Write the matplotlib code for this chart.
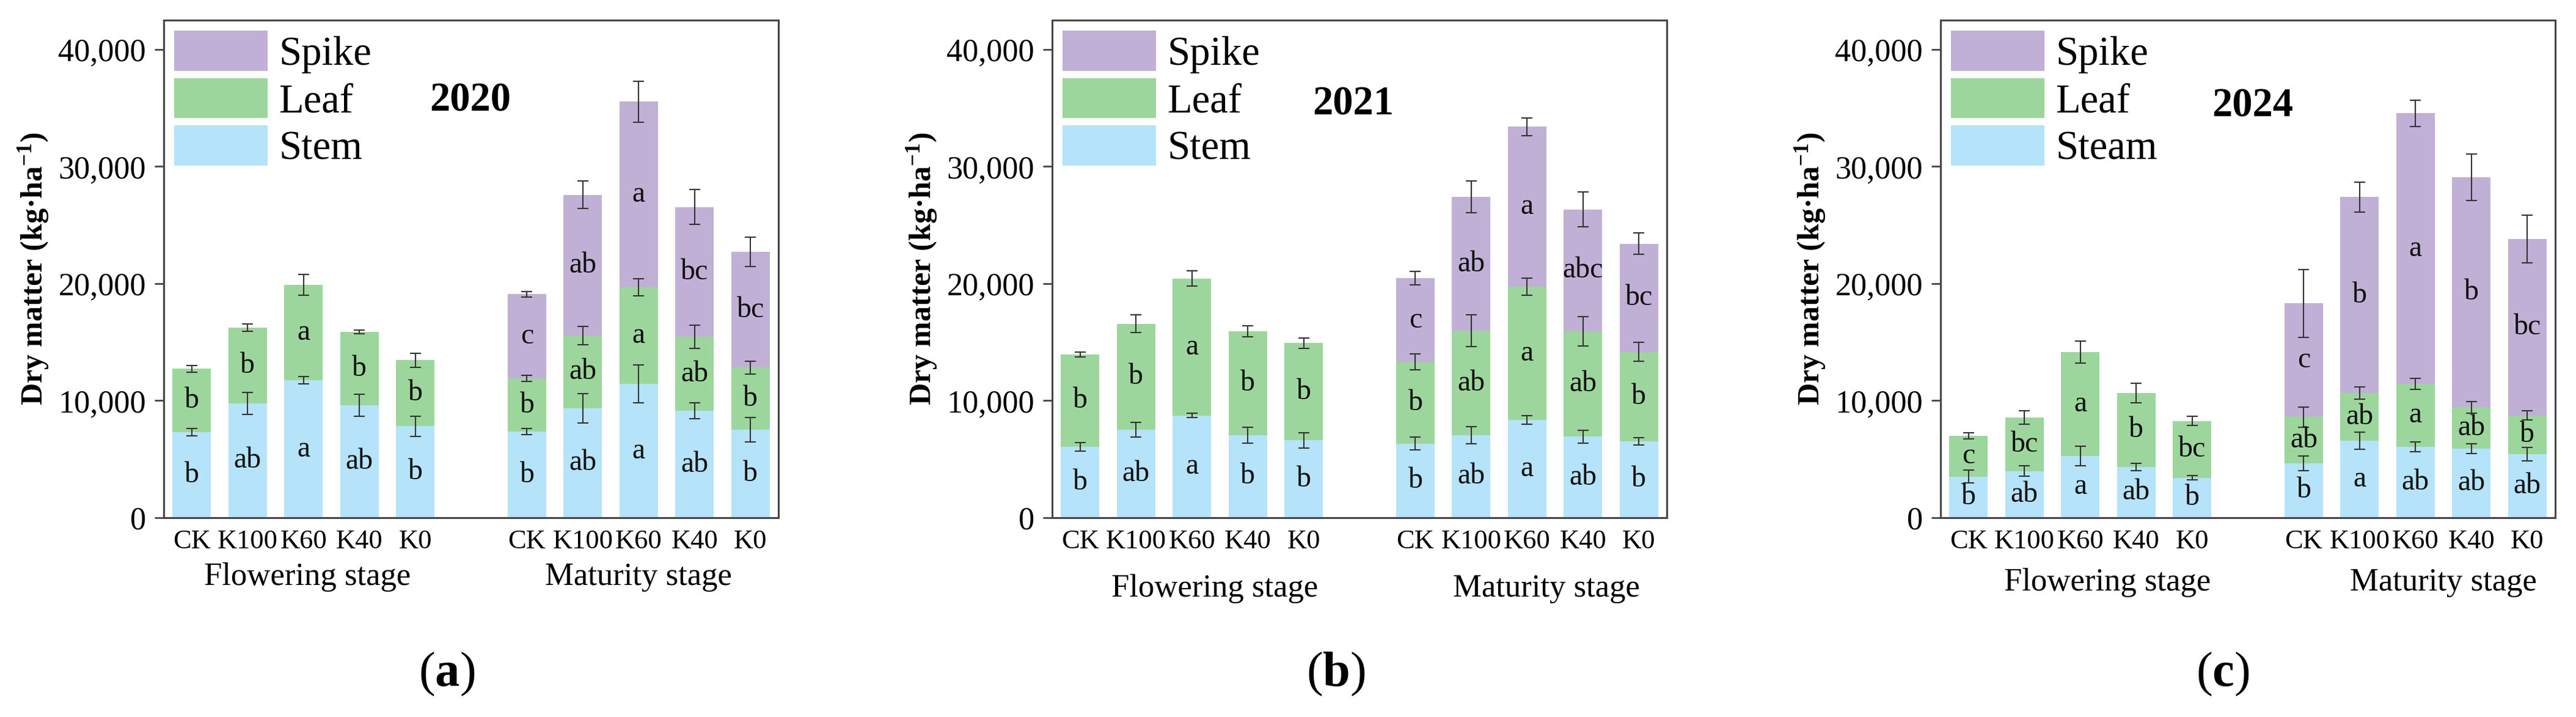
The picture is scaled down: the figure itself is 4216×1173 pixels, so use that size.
import matplotlib
matplotlib.use('Agg')
import matplotlib.pyplot as plt
import matplotlib.transforms as mtransforms
import numpy as np

plt.rcParams['font.family'] = ['Liberation Serif', 'DejaVu Serif']
plt.rcParams['mathtext.fontset'] = 'custom'
plt.rcParams['mathtext.rm'] = 'Liberation Serif'
plt.rcParams['mathtext.bf'] = 'Liberation Serif:bold'
plt.rcParams['mathtext.it'] = 'Liberation Serif:italic'

# ---------------- data ----------------
treatments = ['CK', 'K100', 'K60', 'K40', 'K0']
stages = ['Flowering stage', 'Maturity stage']
years = ['2020', '2021', '2024']
panel_tags = ['a', 'b', 'c']
legend_labels = [['Spike', 'Leaf', 'Stem'],
                 ['Spike', 'Leaf', 'Stem'],
                 ['Spike', 'Leaf', 'Steam']]
ytick_values = [0, 10000, 20000, 30000, 40000]
ytick_labels = ['0', '10,000', '20,000', '30,000', '40,000']

# order: flowering CK..K0, maturity CK..K0
stem_2020 = [7320, 9780, 11740, 9590, 7830, 7360, 9350, 11430, 9120, 7510]
leaf_2020 = [5400, 6460, 8140, 6300, 5630, 4540, 6230, 8260, 6340, 5330]
spike_2020 = [7200, 12010, 15850, 11080, 9860]            # maturity only
stem_err_2020 = [300, 940, 330, 940, 860, 250, 1270, 1620, 670, 1040]
leaf_err_2020 = [270, 310, 900, 160, 590, 250, 780, 720, 1000, 550]
spike_err_2020 = [240, 1170, 1760, 1490, 1250]
stem_let_2020 = ['b', 'ab', 'a', 'ab', 'b', 'b', 'ab', 'a', 'ab', 'b']
leaf_let_2020 = ['b', 'b', 'a', 'b', 'b', 'b', 'ab', 'a', 'ab', 'b']
spike_let_2020 = ['c', 'ab', 'a', 'bc', 'bc']

stem_2021 = [6070, 7510, 8730, 7050, 6610, 6340, 7050, 8340, 6930, 6540]
leaf_2021 = [7860, 9050, 11700, 8880, 8300, 6970, 8920, 11390, 9000, 7630]
spike_2021 = [7160, 11430, 13660, 10410, 9240]
stem_err_2021 = [370, 610, 180, 700, 670, 530, 740, 370, 550, 310]
leaf_err_2021 = [200, 760, 650, 450, 430, 670, 1350, 720, 1270, 820]
spike_err_2021 = [590, 1370, 780, 1470, 920]
stem_let_2021 = ['b', 'ab', 'a', 'b', 'b', 'b', 'ab', 'a', 'ab', 'b']
leaf_let_2021 = ['b', 'b', 'a', 'b', 'b', 'b', 'ab', 'a', 'ab', 'b']
spike_let_2021 = ['c', 'ab', 'a', 'abc', 'bc']

stem_2024 = [3520, 3990, 5280, 4340, 3410, 4660, 6580, 6070, 5910, 5440]
leaf_2024 = [3490, 4580, 8850, 6310, 4850, 3950, 4070, 5360, 3520, 3290]
spike_2024 = [9710, 16750, 23130, 19650, 15070]
stem_err_2024 = [550, 450, 840, 330, 180, 630, 740, 430, 430, 590]
leaf_err_2024 = [270, 590, 940, 820, 390, 860, 530, 490, 490, 390]
spike_err_2024 = [2900, 1270, 1120, 1960, 2050]
stem_let_2024 = ['b', 'ab', 'a', 'ab', 'b', 'b', 'a', 'ab', 'ab', 'ab']
leaf_let_2024 = ['c', 'bc', 'a', 'b', 'bc', 'ab', 'ab', 'a', 'ab', 'b']
spike_let_2024 = ['c', 'b', 'a', 'b', 'bc']

panels = [
    (stem_2020, leaf_2020, spike_2020, stem_err_2020, leaf_err_2020, spike_err_2020,
     stem_let_2020, leaf_let_2020, spike_let_2020),
    (stem_2021, leaf_2021, spike_2021, stem_err_2021, leaf_err_2021, spike_err_2021,
     stem_let_2021, leaf_let_2021, spike_let_2021),
    (stem_2024, leaf_2024, spike_2024, stem_err_2024, leaf_err_2024, spike_err_2024,
     stem_let_2024, leaf_let_2024, spike_let_2024),
]

# ---------------- style / layout ----------------
c_stem = '#B5E3FA'
c_leaf = '#9DD69C'
c_spike = '#C1B0D6'
c_err = '#333333'
c_spine = '#454545'

W, H = 4216, 1173
axes_left_px = [268, 1722, 3176]
axes_w_px = 1006
axes_top_px, axes_bot_px = 33, 847
year_pos = [(0.499, 0.838), (0.490, 0.830), (0.508, 0.827)]
stage_x = [(2.07, 8.0), (2.41, 8.34), (2.49, 8.5)]
stage_y = [-0.135, -0.158, -0.146]
tag_x_px = [731, 2186, 3638]
tag_base_px = 1122

fig = plt.figure(figsize=(W / 100, H / 100), dpi=100)

ntr = len(treatments)
xpos = np.concatenate([np.arange(ntr), np.arange(ntr) + ntr + 1]).astype(float)
bw = 0.69

for i, (stem, leaf, spike, se, le, pe, sl, ll, pl) in enumerate(panels):
    ax = fig.add_axes([axes_left_px[i] / W, 1 - axes_bot_px / H,
                       axes_w_px / W, (axes_bot_px - axes_top_px) / H])
    stem = np.array(stem, float)
    leaf = np.array(leaf, float)
    spike = np.array(spike, float)
    leaf_top = stem + leaf
    xm = xpos[ntr:]

    b_stem = ax.bar(xpos, stem, bw, color=c_stem, zorder=2)
    b_leaf = ax.bar(xpos, leaf, bw, bottom=stem, color=c_leaf, zorder=2)
    b_spike = ax.bar(xm, spike, bw, bottom=leaf_top[ntr:], color=c_spike, zorder=2)

    ekw = dict(fmt='none', ecolor=c_err, elinewidth=1.5, capsize=6.5, capthick=1.5, zorder=4)
    ax.errorbar(xpos, stem, yerr=se, **ekw)
    ax.errorbar(xpos, leaf_top, yerr=le, **ekw)
    ax.errorbar(xm, leaf_top[ntr:] + spike, yerr=pe, **ekw)

    tkw = dict(ha='center', va='center', fontsize=34.5, color='#111111', zorder=5)
    for xi, s0, s, t in zip(xpos, np.zeros_like(stem), stem, sl):
        ax.text(xi, s0 + s / 2, t, **tkw)
    for xi, s0, s, t in zip(xpos, stem, leaf, ll):
        ax.text(xi, s0 + s / 2, t, **tkw)
    for xi, s0, s, t in zip(xm, leaf_top[ntr:], spike, pl):
        ax.text(xi, s0 + s / 2, t, **tkw)

    ax.set_xlim(-0.5, 2 * ntr + 0.5)
    ax.set_ylim(0, 42500)
    ax.set_xticks(xpos)
    ax.set_xticklabels(treatments * 2)
    ax.set_yticks(ytick_values)
    ax.set_yticklabels(ytick_labels)
    ax.tick_params(axis='y', direction='out', length=11, width=2, color=c_spine,
                   labelsize=37.5, pad=10)
    ax.tick_params(axis='x', length=0, labelsize=32, pad=14)
    for sp in ax.spines.values():
        sp.set_linewidth(2.2)
        sp.set_color(c_spine)

    ax.set_ylabel(r'Dry matter (kg·ha$^{\mathbf{-1}}$)', fontweight='bold', fontsize=36)
    ax.yaxis.set_label_coords(-0.184, 0.5)

    trans = mtransforms.blended_transform_factory(ax.transData, ax.transAxes)
    for sx, st in zip(stage_x[i], stages):
        ax.text(sx, stage_y[i], st, transform=trans, ha='center', va='baseline', fontsize=38)

    ax.text(year_pos[i][0], year_pos[i][1], years[i], transform=ax.transAxes,
            ha='center', va='center', fontweight='bold', fontsize=48)

    ax.legend([b_spike, b_leaf, b_stem], legend_labels[i], loc='upper left',
              bbox_to_anchor=(0.017, 0.979), frameon=False, fontsize=48,
              handlelength=2.29, handleheight=1.14, labelspacing=0.12,
              handletextpad=0.28, borderpad=0, borderaxespad=0)

    fig.text(tag_x_px[i] / W, 1 - tag_base_px / H, '($\\mathbf{%s}$)' % panel_tags[i],
             ha='center', va='baseline', fontsize=58)

fig.savefig('out.png', dpi=100, facecolor='white')
